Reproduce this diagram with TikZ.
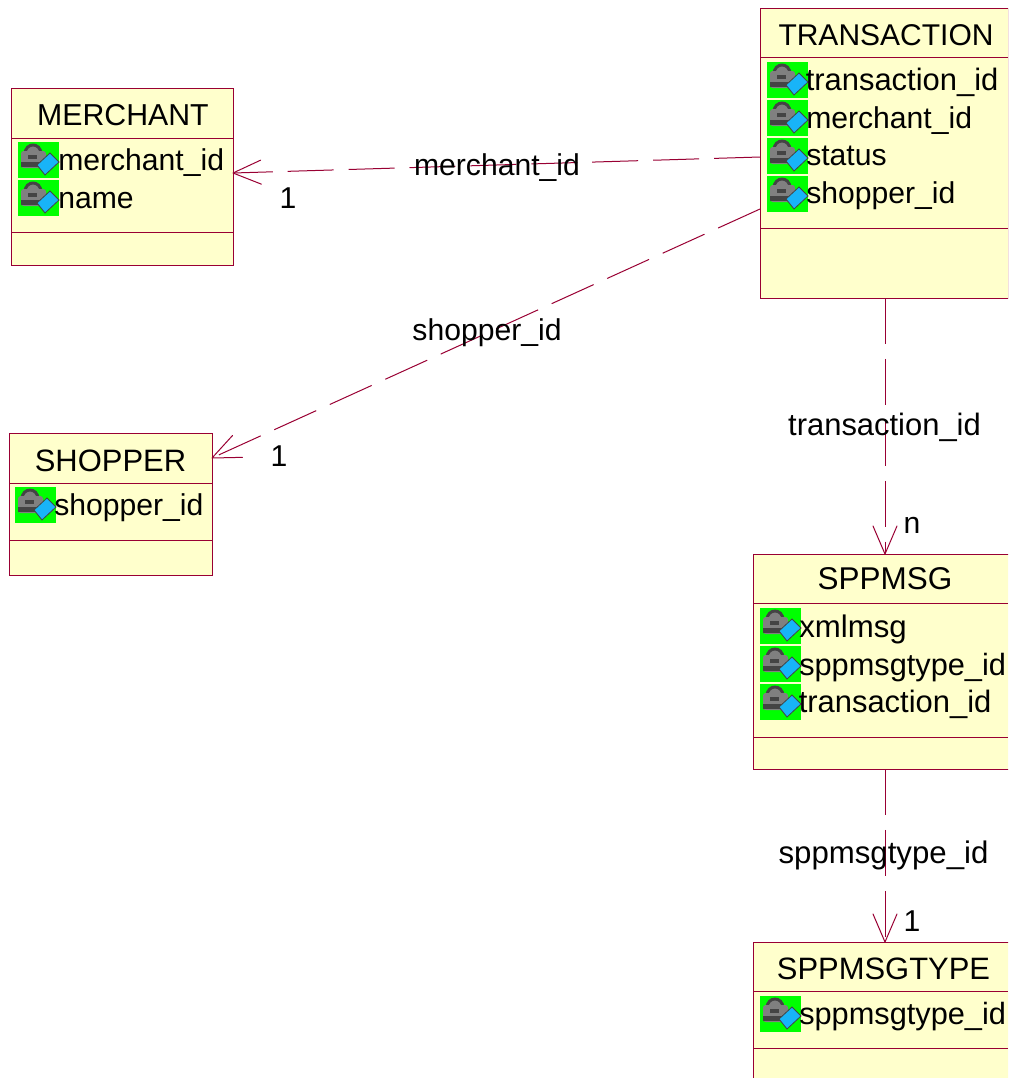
\documentclass[tikz,border=0pt]{standalone}
\usepackage{fontspec}
\setmainfont{Liberation Sans}
\usetikzlibrary{arrows.meta}
\definecolor{boxline}{HTML}{990033}
\definecolor{boxfill}{HTML}{FFFFCC}
\definecolor{keygreen}{HTML}{00FF00}
\definecolor{lockgray}{HTML}{808080}
\definecolor{lockdark}{HTML}{444444}
\definecolor{keyblue}{HTML}{18B4F8}
\newcommand{\sz}[1]{\fontsize{#1}{24}\selectfont}
\pgfdeclarearrow{
  name=OpenV,
  setup code={
    \pgfarrowssetlineend{-0.4pt}
    \pgfarrowssettipend{0pt}
    \pgfarrowssetbackend{-21pt}
    \pgfarrowssetvisualbackend{-21pt}
  },
  drawing code={
    \pgfsetdash{}{0pt}
    \pgfsetroundjoin
    \pgfsetroundcap
    \pgfpathmoveto{\pgfpoint{-21pt}{9pt}}
    \pgfpathlineto{\pgfpointorigin}
    \pgfpathlineto{\pgfpoint{-21pt}{-9pt}}
    \pgfusepathqstroke
  }
}
\tikzset{
  classbox/.style={draw=boxline,fill=boxfill,line width=1pt,rectangle,inner sep=0pt,anchor=north west},
  divider/.style={draw=boxline,line width=0.75pt},
  txt/.style={font=\sz{#1},inner sep=0pt},
  txt/.default=22.6,
  boxtitle/.style={txt=#1,anchor=base},
  boxtitle/.default=23.2,
  attrib/.style={txt=#1,anchor=base west},
  attrib/.default=22.6,
  linklabel/.style={txt=#1,anchor=base},
  linklabel/.default=22.6,
  link/.style={draw=boxline,line width=0.75pt,dash pattern=on 34.5pt off 11.2pt,-{OpenV}},
  keyicon/.pic={
    \fill[keygreen] (0,0) rectangle (41,36);
    \draw[lockdark,fill=lockgray,line width=2.2pt] (7,12) .. controls (7,0) and (23,0) .. (23,12);
    \fill[lockgray,rounded corners=2pt] (3,9) rectangle (28,26);
    \fill[lockdark] (3,20) rectangle (24,25);
    \fill[lockdark] (10,13) rectangle (19,17);
    \fill[keyblue,draw=lockdark,line width=0.6pt] (19,23) -- (32,11) -- (41,20) -- (27,33) -- cycle;
  }
}
\begin{document}
\begin{tikzpicture}[x=0.75pt,y=-0.75pt]
\useasboundingbox (0,0) rectangle (1008,1078);
\clip (0,0) rectangle (1008,1078);
% boxes
\node[classbox,minimum width=222*0.75pt,minimum height=177*0.75pt] (merchant) at (11,88) {};
\node[classbox,minimum width=203*0.75pt,minimum height=142*0.75pt] (shopper) at (9,433) {};
\node[classbox,minimum width=248*0.75pt,minimum height=290*0.75pt] (transaction) at (760,8) {};
\node[classbox,minimum width=256*0.75pt,minimum height=215*0.75pt] (sppmsg) at (753,554) {};
\node[classbox,minimum width=256*0.75pt,minimum height=160*0.75pt] (sppmsgtype) at (753,942) {};
% dividers
\draw[divider] (11,138) -- (233,138) (11,232) -- (233,232);
\draw[divider] (9,483) -- (212,483) (9,540) -- (212,540);
\draw[divider] (760,57) -- (1008,57) (760,228) -- (1008,228);
\draw[divider] (753,603) -- (1008,603) (753,737) -- (1008,737);
\draw[divider] (753,991) -- (1008,991) (753,1048) -- (1008,1048);
% titles
\node[boxtitle=22.7] (t1) at (123,125) {MERCHANT};
\node[boxtitle] (t2) at (110.5,471) {SHOPPER};
\node[boxtitle=22.5] (t3) at (886,45) {TRANSACTION};
\node[boxtitle=23.6] (t4) at (885,589) {SPPMSG};
\node[boxtitle] (t5) at (883.5,979) {SPPMSGTYPE};
% icons
\foreach \ix/\iy in {18/142,18/180,15/487,767/62,767/100,767/138,767/176,760/608,760/646,760/684,760/996}
  \pic at (\ix,\iy) {keyicon};
% attributes
\node[attrib] (a1) at (58,170) {merchant\_id};
\node[attrib] (a2) at (58,208) {name};
\node[attrib] (a3) at (54,515) {shopper\_id};
\node[attrib=23.2] (a4) at (805.5,90) {transaction\_id};
\node[attrib] (a5) at (806,128) {merchant\_id};
\node[attrib] (a6) at (806,165) {status};
\node[attrib] (a7) at (806,203) {shopper\_id};
\node[attrib=23.4] (a8) at (799,637) {xmlmsg};
\node[attrib=23.05] (a9) at (799,675) {sppmsgtype\_id};
\node[attrib=23.2] (a10) at (798.5,712) {transaction\_id};
\node[attrib=23.05] (a11) at (799,1024) {sppmsgtype\_id};
% ports
\coordinate (p1) at (760,157);
\coordinate (p2) at (233,173);
\coordinate (p3) at (760,209);
\coordinate (p4) at (212,458);
\coordinate (p5) at (885,298);
\coordinate (p6) at (885,554);
\coordinate (p7) at (885,769);
\coordinate (p8) at (885,942);
% links
\draw[link] (p1) -- (p2);
\draw[link] (p3) -- (p4);
\draw[link] (p5) -- (p6);
\draw[link] (p7) -- (p8);
% labels
\node[linklabel] (l1) at (497,175) {merchant\_id};
\node[linklabel] (l2) at (487,340) {shopper\_id};
\node[linklabel=23.2] (l3) at (884.5,435) {transaction\_id};
\node[linklabel=23.4] (l4) at (883.5,863) {sppmsgtype\_id};
\node[linklabel] (m1) at (288,208) {1};
\node[linklabel] (m2) at (279,466) {1};
\node[linklabel] (m3) at (912,533) {n};
\node[linklabel] (m4) at (912,931) {1};
\end{tikzpicture}
\end{document}
